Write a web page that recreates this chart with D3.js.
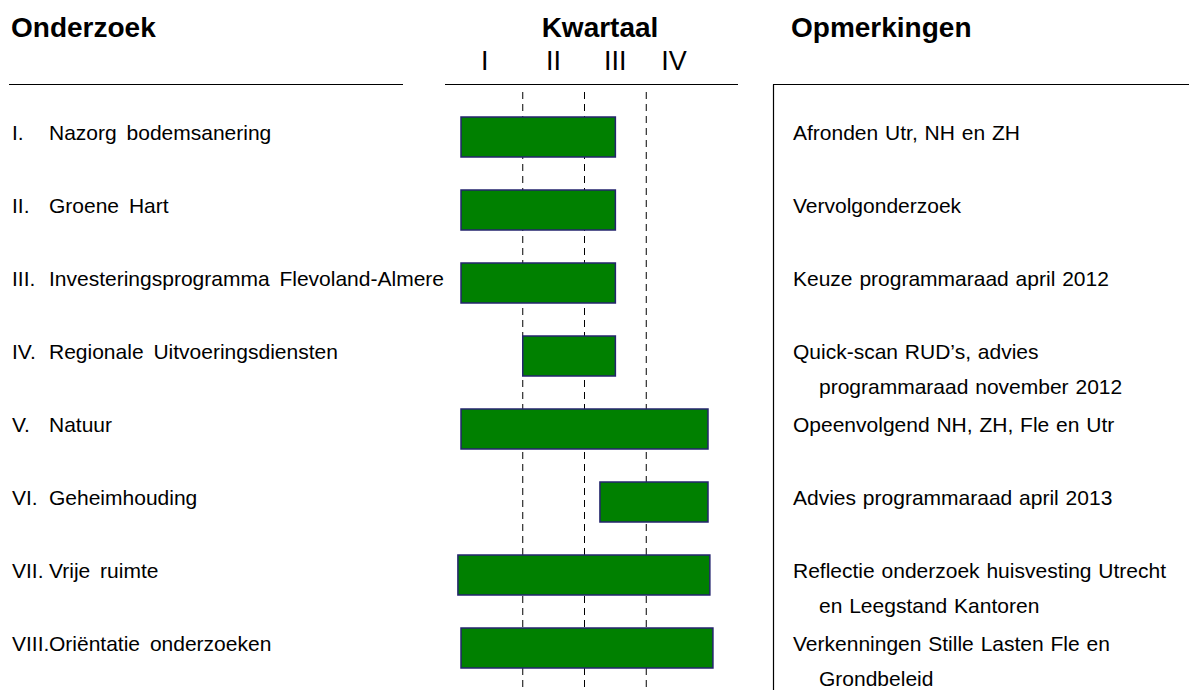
<!DOCTYPE html>
<html>
<head>
<meta charset="utf-8">
<script src="https://cdn.jsdelivr.net/npm/d3@7"></script>
<style>
  body { margin: 0; background: #fff; }
  text { font-family: "Liberation Sans", Arial, sans-serif; fill: #000; }
</style>
</head>
<body>
<svg id="chart" width="1189" height="690"></svg>
<script>
const width = 1189;
const height = 690;

// data (quarters 0..4)
const numerals = ["I.", "II.", "III.", "IV.", "V.", "VI.", "VII.", "VIII."];
const projects = [
  "Nazorg bodemsanering",
  "Groene Hart",
  "Investeringsprogramma Flevoland-Almere",
  "Regionale Uitvoeringsdiensten",
  "Natuur",
  "Geheimhouding",
  "Vrije ruimte",
  "Oriëntatie onderzoeken"
];
const startQ = [0, 0, 0, 1, 0, 2.25, -0.05, 0];
const endQ = [2.5, 2.5, 2.5, 2.5, 4, 4, 4.03, 4.08];
const remarks = [
  ["Afronden Utr, NH en ZH"],
  ["Vervolgonderzoek"],
  ["Keuze programmaraad april 2012"],
  ["Quick-scan RUD’s, advies", "programmaraad november 2012"],
  ["Opeenvolgend NH, ZH, Fle en Utr"],
  ["Advies programmaraad april 2013"],
  ["Reflectie onderzoek huisvesting Utrecht", "en Leegstand Kantoren"],
  ["Verkenningen Stille Lasten Fle en", "Grondbeleid"]
];
const quarterLabels = ["I", "II", "III", "IV"];
const quarterLines = [1, 2, 3];

const svg = d3.select("#chart");

const x = d3.scaleLinear().domain([0, 4]).range([461, 708]);
const y = d3.scaleLinear().domain([0, projects.length - 1]).range([140, 651]);
const barH = 40;

// Headers
svg.append("text").attr("x", 11).attr("y", 37)
  .style("font-size", "28px").style("font-weight", "bold").text("Onderzoek");
svg.append("text").attr("x", 600).attr("y", 37).attr("text-anchor", "middle")
  .style("font-size", "28px").style("font-weight", "bold").text("Kwartaal");
svg.append("text").attr("x", 791).attr("y", 37)
  .style("font-size", "28px").style("font-weight", "bold").text("Opmerkingen");

svg.selectAll(".qlabel")
  .data(quarterLabels)
  .enter()
  .append("text")
  .attr("class", "qlabel")
  .attr("x", (d, i) => x(i + 0.5) - (i === 0 ? 7 : 0) - (i === 3 ? 3 : 0))
  .attr("y", 70)
  .attr("text-anchor", "middle")
  .style("font-size", "27px")
  .text(d => d);

// header rules
svg.append("line").attr("x1", 9).attr("x2", 403).attr("y1", 84.5).attr("y2", 84.5)
  .attr("stroke", "#000").attr("stroke-width", 1.2);
svg.append("line").attr("x1", 445).attr("x2", 738).attr("y1", 84.5).attr("y2", 84.5)
  .attr("stroke", "#000").attr("stroke-width", 1.2);
svg.append("line").attr("x1", 773).attr("x2", width).attr("y1", 84.5).attr("y2", 84.5)
  .attr("stroke", "#000").attr("stroke-width", 1.2);
svg.append("line").attr("x1", 773.5).attr("x2", 773.5).attr("y1", 84.5).attr("y2", height)
  .attr("stroke", "#000").attr("stroke-width", 1.2);

// dashed quarter dividers
svg.selectAll(".qline")
  .data(quarterLines)
  .enter()
  .append("line")
  .attr("class", "qline")
  .attr("x1", d => x(d)).attr("x2", d => x(d))
  .attr("y1", 92).attr("y2", height)
  .attr("stroke", "#000")
  .attr("stroke-width", 1)
  .attr("stroke-dasharray", "7,5");

// bars
svg.selectAll(".bar")
  .data(projects)
  .enter()
  .append("rect")
  .attr("class", "bar")
  .attr("x", (d, i) => x(startQ[i]))
  .attr("y", (d, i) => y(i) - 23)
  .attr("width", (d, i) => x(endQ[i]) - x(startQ[i]))
  .attr("height", barH)
  .attr("fill", "#008000")
  .attr("stroke", "#24246e")
  .attr("stroke-width", 1.5);

// left labels
svg.selectAll(".num")
  .data(numerals)
  .enter()
  .append("text")
  .attr("class", "num")
  .attr("x", 12)
  .attr("y", (d, i) => y(i))
  .style("font-size", "21px")
  .text(d => d);

svg.selectAll(".name")
  .data(projects)
  .enter()
  .append("text")
  .attr("class", "name")
  .attr("x", 49)
  .attr("y", (d, i) => y(i))
  .style("font-size", "21px")
  .style("word-spacing", "4px")
  .text(d => d);

// remarks
const rem = svg.selectAll(".remark")
  .data(remarks)
  .enter()
  .append("text")
  .attr("class", "remark")
  .attr("y", (d, i) => y(i))
  .style("font-size", "21px")
  .style("word-spacing", "1px");

rem.selectAll("tspan")
  .data(d => d)
  .enter()
  .append("tspan")
  .attr("x", (d, j) => j === 0 ? 793 : 819)
  .attr("dy", (d, j) => j === 0 ? 0 : 35)
  .text(d => d);
</script>
</body>
</html>
